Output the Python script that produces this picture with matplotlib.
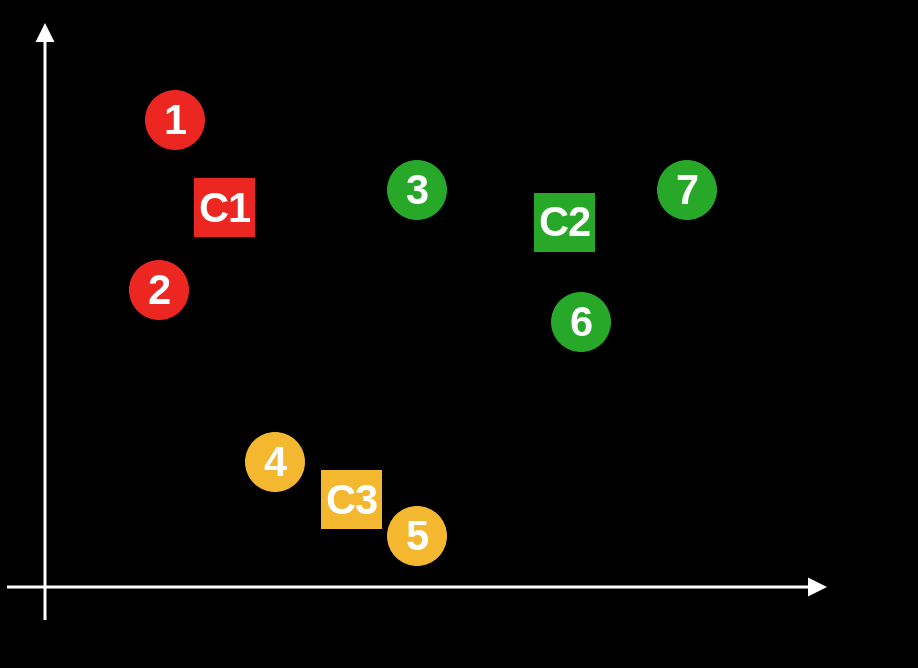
import matplotlib.pyplot as plt
from matplotlib.patches import Circle, Rectangle

# item positions, measured from the axes origin (1 unit = 1 pixel)
point_labels = ["1", "2", "3", "4", "5", "6", "7"]
point_x = [130, 114, 372, 230, 372, 536, 642]
point_y = [467, 297, 397, 125, 51, 265, 397]
point_group = ["C1", "C1", "C2", "C3", "C3", "C2", "C2"]

center_labels = ["C1", "C2", "C3"]
center_x = [179.5, 519.5, 306.5]
center_y = [379.5, 364.5, 87.5]

colors = {"C1": "#ec2722", "C2": "#28a828", "C3": "#f4b730"}

fig = plt.figure(figsize=(9.18, 6.68), dpi=100, facecolor="black")
ax = fig.add_axes([0, 0, 1, 1])
ax.set_facecolor("black")
ax.set_xlim(-45, 873)
ax.set_ylim(-81, 587)
ax.set_aspect("equal")
ax.axis("off")

arrow_style = dict(width=3, head_width=19, head_length=19,
                   length_includes_head=True, color="white", lw=0)
ax.arrow(-38, 0, 820, 0, **arrow_style)
ax.arrow(0, -33, 0, 597, **arrow_style)

font = dict(family=["Liberation Sans", "DejaVu Sans"], weight="bold",
            fontsize=30, color="white", ha="center", va="center")

for label, x, y, group in zip(point_labels, point_x, point_y, point_group):
    ax.add_patch(Circle((x, y), 30, color=colors[group], lw=0))
    ax.text(x, y - 3, label, **font)

for label, x, y in zip(center_labels, center_x, center_y):
    ax.add_patch(Rectangle((x - 30.5, y - 29.5), 61, 59, color=colors[label], lw=0))
    ax.text(x, y - 3, label, **font)

fig.savefig("out.png", dpi=100, facecolor="black")
